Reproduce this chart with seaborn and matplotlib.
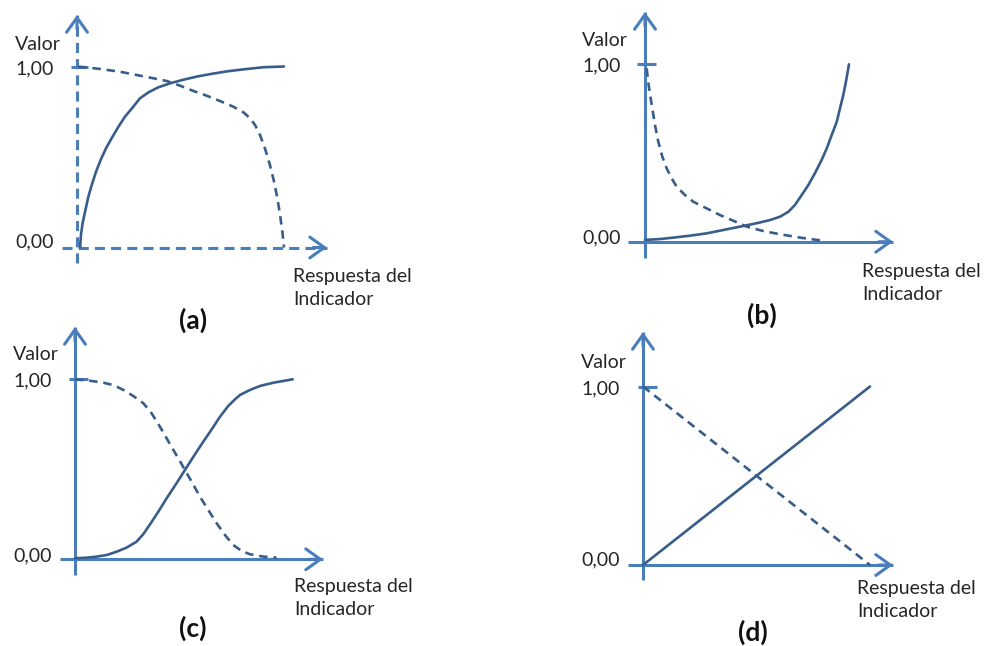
import matplotlib
matplotlib.use("Agg")
import matplotlib.pyplot as plt
import seaborn as sns
import pandas as pd

# Curve shapes: indicator response (x) against value (y), both scaled 0..1
a_solid_x = [0.015, 0.019, 0.027, 0.039, 0.055, 0.071, 0.092, 0.114, 0.140, 0.167, 0.200, 0.232,
             0.272, 0.304, 0.345, 0.393, 0.449, 0.514, 0.578, 0.643, 0.723, 0.803, 0.900, 1.0]
a_solid_y = [0.0, 0.069, 0.134, 0.198, 0.281, 0.345, 0.419, 0.483, 0.548, 0.603, 0.667, 0.723,
             0.778, 0.824, 0.857, 0.885, 0.907, 0.927, 0.944, 0.958, 0.973, 0.984, 0.996, 1.0]
a_dash_x = [0.006, 0.063, 0.127, 0.208, 0.288, 0.369, 0.433, 0.498, 0.562, 0.626, 0.691, 0.755,
            0.804, 0.836, 0.860, 0.884, 0.908, 0.932, 0.952, 0.968, 0.981, 0.992, 1.0]
a_dash_y = [0.999, 0.993, 0.984, 0.971, 0.953, 0.935, 0.920, 0.894, 0.865, 0.839, 0.809, 0.778,
            0.747, 0.714, 0.677, 0.622, 0.548, 0.456, 0.364, 0.272, 0.180, 0.087, 0.0]

b_solid_x = [0.0, 0.074, 0.139, 0.221, 0.302, 0.384, 0.466, 0.547, 0.613, 0.662, 0.703, 0.735,
             0.768, 0.801, 0.833, 0.866, 0.891, 0.915, 0.940, 0.956, 0.972, 0.985, 1.0]
b_solid_y = [0.010, 0.015, 0.023, 0.034, 0.047, 0.066, 0.085, 0.104, 0.122, 0.141, 0.169, 0.207,
             0.263, 0.320, 0.386, 0.461, 0.526, 0.601, 0.676, 0.752, 0.827, 0.902, 1.0]
b_dash_x = [0.008, 0.020, 0.033, 0.049, 0.065, 0.085, 0.106, 0.131, 0.155, 0.196, 0.237, 0.302,
            0.368, 0.433, 0.498, 0.580, 0.662, 0.760, 0.882]
b_dash_y = [0.977, 0.865, 0.771, 0.658, 0.564, 0.479, 0.414, 0.357, 0.310, 0.263, 0.225, 0.188,
            0.150, 0.118, 0.085, 0.060, 0.042, 0.023, 0.004]

c_solid_x = [0.0, 0.054, 0.100, 0.146, 0.191, 0.237, 0.283, 0.314, 0.345, 0.383, 0.421, 0.464,
             0.505, 0.546, 0.589, 0.628, 0.666, 0.704, 0.735, 0.758, 0.804, 0.850, 0.911, 1.0]
c_solid_y = [0.006, 0.009, 0.015, 0.024, 0.042, 0.065, 0.098, 0.140, 0.195, 0.265, 0.339, 0.418,
             0.496, 0.574, 0.653, 0.722, 0.792, 0.852, 0.889, 0.913, 0.941, 0.963, 0.981, 1.0]
c_dash_x = [0.0, 0.069, 0.130, 0.176, 0.222, 0.268, 0.314, 0.352, 0.390, 0.421, 0.452, 0.479,
            0.505, 0.540, 0.574, 0.612, 0.651, 0.689, 0.727, 0.766, 0.804, 0.865, 0.926]
c_dash_y = [1.0, 0.992, 0.981, 0.968, 0.941, 0.907, 0.867, 0.811, 0.737, 0.672, 0.607, 0.552,
            0.496, 0.422, 0.348, 0.274, 0.200, 0.135, 0.079, 0.046, 0.028, 0.015, 0.009]

d_solid_x = [0.0, 1.0]
d_solid_y = [0.0, 1.0]
d_dash_x = [0.0, 1.0]
d_dash_y = [1.0, 0.0]

value_ticks = [0.0, 1.0]
value_tick_labels = ["0,00", "1,00"]
y_title = "Valor"
x_title = "Respuesta del\nIndicador"
panel_tags = ["(a)", "(b)", "(c)", "(d)"]

AXIS_C = "#4a7ebb"
CURVE_C = "#385d8a"

sns.set_style("white")
plt.rcParams["font.family"] = ["Lato", "DejaVu Sans"]

W, H = 987, 646
fig = plt.figure(figsize=(W / 100, H / 100), dpi=100)

# layout of each panel in pixels: origin, scale, axis extents, label anchors
panels = [
    dict(tag=panel_tags[0], sx_=a_solid_x, sy_=a_solid_y, dx_=a_dash_x, dy_=a_dash_y,
         o=(77, 247.5), s=(207, 181), ybot=263, ytip=15, xleft=62, xtip=327, tick=(71, 88),
         lab_x=15, valor_y=45, zero_y=242, resp=(293, 276), tagpos=(193, 320),
         dashed_axes=True),
    dict(tag=panel_tags[1], sx_=b_solid_x, sy_=b_solid_y, dx_=b_dash_x, dy_=b_dash_y,
         o=(645, 241.7), s=(204, 177.4), ybot=258, ytip=12, xleft=628, xtip=893, tick=(637, 656),
         lab_x=582, valor_y=40, zero_y=238, resp=(862, 271), tagpos=(762, 315),
         dashed_axes=False),
    dict(tag=panel_tags[2], sx_=c_solid_x, sy_=c_solid_y, dx_=c_dash_x, dy_=c_dash_y,
         o=(75, 559.3), s=(217.7, 180), ybot=575, ytip=327, xleft=60, xtip=323, tick=(69, 88),
         lab_x=13, valor_y=355, zero_y=556, resp=(294, 586), tagpos=(193, 628),
         dashed_axes=False),
    dict(tag=panel_tags[3], sx_=d_solid_x, sy_=d_solid_y, dx_=d_dash_x, dy_=d_dash_y,
         o=(643, 565), s=(227, 178.5), ybot=580, ytip=332, xleft=628, xtip=893, tick=(638, 657),
         lab_x=581, valor_y=362, zero_y=560, resp=(857, 588), tagpos=(753, 632),
         dashed_axes=False),
]

AX_LW = 2.2
CURVE_LW = 1.9
ARROW = "->,head_length=1.05,head_width=0.75"
FS = 14
TEXT_C = "#262626"

for p in panels:
    ox, oy = p["o"]
    kx, ky = p["s"]
    ax = fig.add_axes([0, 0, 1, 1])
    ax.set_facecolor("none")
    ax.set_xlim((0 - ox) / kx, (W - ox) / kx)
    ax.set_ylim((oy - H) / ky, (oy - 0) / ky)
    ax.axis("off")

    def X(px):
        return (px - ox) / kx

    def Y(py):
        return (oy - py) / ky

    # axes with arrow heads
    ls = (0, (3.3, 2.0)) if p["dashed_axes"] else "-"
    ax.plot([0, 0], [Y(p["ybot"]), Y(p["ytip"])], color=AXIS_C, lw=AX_LW, ls=ls,
            solid_capstyle="butt", dash_capstyle="butt")
    ax.plot([X(p["xleft"]), X(p["xtip"])], [0, 0], color=AXIS_C, lw=AX_LW, ls=ls,
            solid_capstyle="butt", dash_capstyle="butt")
    ax.annotate("", xy=(0, Y(p["ytip"])), xytext=(0, Y(p["ytip"] + 14)),
                arrowprops=dict(arrowstyle=ARROW, lw=AX_LW, color=AXIS_C,
                                shrinkA=0, shrinkB=0, mutation_scale=10))
    ax.annotate("", xy=(X(p["xtip"]), 0), xytext=(X(p["xtip"] - 14), 0),
                arrowprops=dict(arrowstyle=ARROW, lw=AX_LW, color=AXIS_C,
                                shrinkA=0, shrinkB=0, mutation_scale=10))
    # tick mark at value 1
    ax.plot([X(p["tick"][0]), X(p["tick"][1])], [value_ticks[1], value_ticks[1]],
            color=AXIS_C, lw=AX_LW, solid_capstyle="butt")

    # curves
    solid = pd.DataFrame({"x": p["sx_"], "y": p["sy_"]})
    dashed = pd.DataFrame({"x": p["dx_"], "y": p["dy_"]})
    sns.lineplot(data=solid, x="x", y="y", ax=ax, color=CURVE_C, lw=CURVE_LW,
                 sort=False, estimator=None)
    sns.lineplot(data=dashed, x="x", y="y", ax=ax, color=CURVE_C, lw=CURVE_LW,
                 sort=False, estimator=None, linestyle=(0, (3.2, 2.2)))

    # labels
    ax.text(X(p["lab_x"]), Y(p["valor_y"]), y_title, fontsize=FS, color=TEXT_C,
            ha="left", va="center")
    ax.text(X(p["lab_x"]), value_ticks[1] - 2 / ky, value_tick_labels[1], fontsize=FS,
            color=TEXT_C, ha="left", va="center")
    ax.text(X(p["lab_x"]), Y(p["zero_y"]), value_tick_labels[0], fontsize=FS,
            color=TEXT_C, ha="left", va="center")
    ax.text(X(p["resp"][0]), Y(p["resp"][1] - 8), x_title, fontsize=FS, color=TEXT_C,
            ha="left", va="top", linespacing=1.42)
    ax.text(X(p["tagpos"][0]), Y(p["tagpos"][1]), p["tag"], fontsize=19,
            fontweight="bold", color="#111111", ha="center", va="center")

fig.savefig("out.png", dpi=100)
